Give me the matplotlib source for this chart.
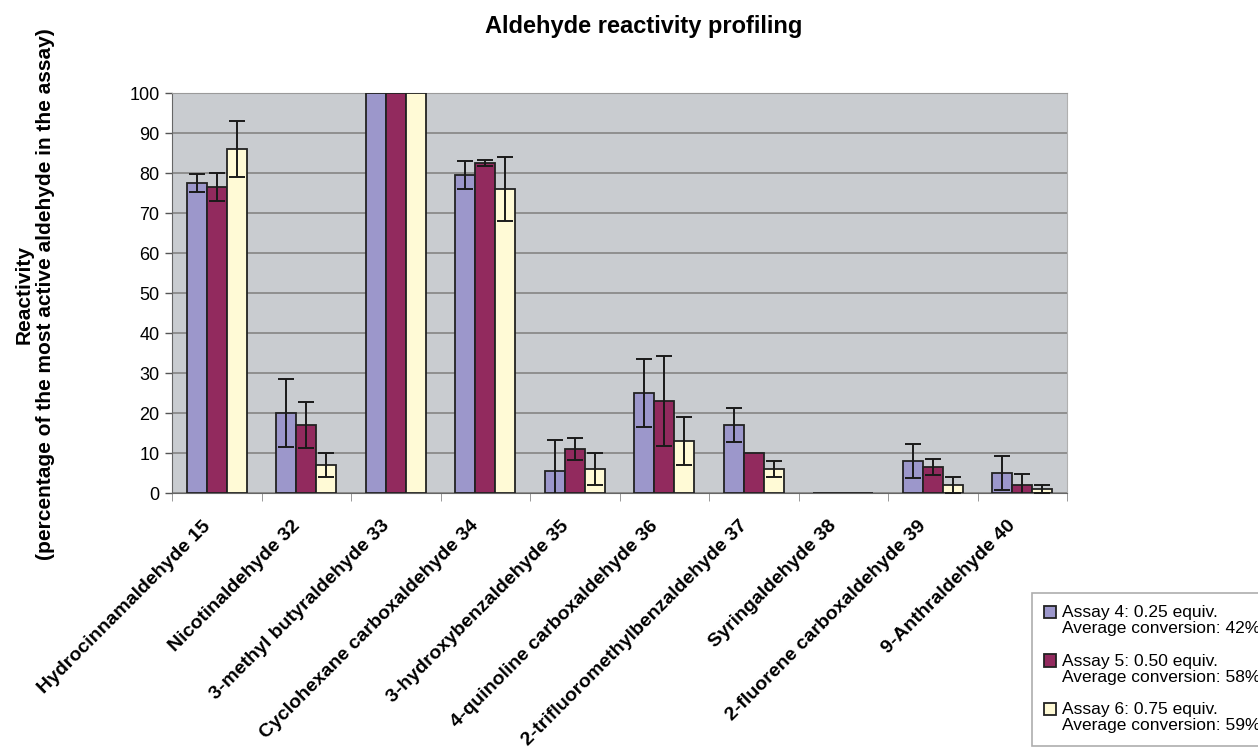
import numpy as np
import matplotlib.pyplot as plt
from matplotlib.patches import Patch, Rectangle
from matplotlib.legend_handler import HandlerPatch
from matplotlib.transforms import ScaledTranslation

# aldehydes tested, reactivity relative to the most active one in each assay
aldehydes = ['Hydrocinnamaldehyde 15', 'Nicotinaldehyde 32', '3-methyl butyraldehyde 33',
             'Cyclohexane carboxaldehyde 34', '3-hydroxybenzaldehyde 35',
             '4-quinoline carboxaldehyde 36', '2-trifluoromethylbenzaldehyde 37',
             'Syringaldehyde 38', '2-fluorene carboxaldehyde 39', '9-Anthraldehyde 40']

assay4 = [77.5, 20.0, 100, 79.5, 5.5, 25.0, 17.0, 0, 8.0, 5.0]
assay4_err = [2.2, 8.5, 0, 3.5, 7.7, 8.5, 4.2, 0, 4.2, 4.2]
assay5 = [76.5, 17.0, 100, 82.5, 11.0, 23.0, 10.0, 0, 6.5, 2.0]
assay5_err = [3.5, 5.7, 0, 0.7, 2.8, 11.3, 0, 0, 2.1, 2.8]
assay6 = [86.0, 7.0, 100, 76.0, 6.0, 13.0, 6.0, 0, 2.0, 1.0]
assay6_err = [7.0, 3.0, 0, 8.0, 3.9, 6.0, 2.0, 0, 1.9, 1.0]

series_labels = ['Assay 4: 0.25 equiv.\nAverage conversion: 42%',
                 'Assay 5: 0.50 equiv.\nAverage conversion: 58%',
                 'Assay 6: 0.75 equiv.\nAverage conversion: 59%']
colors = ['#9c97cb', '#922a5e', '#fffad6']

plt.rcParams['font.family'] = ['Liberation Sans', 'DejaVu Sans']


class TopSquare(HandlerPatch):
    # legend square sits on the first line of a two-line label (Excel style)
    def create_artists(self, legend, orig_handle, xdescent, ydescent, width, height, fontsize, trans):
        p = Rectangle((-xdescent, -ydescent + 0.5 * fontsize), width, height,
                      facecolor=orig_handle.get_facecolor(), edgecolor='#222222',
                      linewidth=1.3, transform=trans)
        return [p]


fig = plt.figure(figsize=(12.58, 7.49), dpi=100)
ax = fig.add_axes([172/1258, 1 - 493/749, (1067-172)/1258, (493-93)/749])
ax.set_facecolor('#c9ccd0')

x = np.arange(len(aldehydes))
w = 0.224
for k, (vals, errs) in enumerate([(assay4, assay4_err), (assay5, assay5_err), (assay6, assay6_err)]):
    ax.bar(x + (k - 1) * w, vals, w, color=colors[k], edgecolor='#222222', linewidth=1.3, zorder=3)
    e = np.array(errs)
    m = e > 0
    ax.errorbar((x + (k - 1) * w)[m], np.array(vals)[m], yerr=e[m], fmt='none', ecolor='#1a1a1a',
                elinewidth=1.4, capsize=6, capthick=1.4, zorder=4)

ax.set_xlim(-0.5, len(aldehydes) - 0.5)
ax.set_ylim(0, 100)
ax.set_yticks(np.arange(0, 101, 10))
ax.yaxis.grid(True, color='#8a8a8a', linewidth=1.3, zorder=0)
ax.set_axisbelow(True)
ax.tick_params(axis='y', labelsize=13, length=5, width=1, color='#555555', pad=4)

ax.set_xticks(x)
ax.set_xticks(np.arange(-0.5, len(aldehydes)), minor=True)
ax.tick_params(axis='x', which='major', length=0, pad=14)
ax.tick_params(axis='x', which='minor', length=6, color='#888888')
ax.set_xticklabels(aldehydes, rotation=45, ha='right', rotation_mode='anchor',
                   fontsize=14, fontweight='bold')
# nudge the slanted labels so they end just left of each group centre
shift = ScaledTranslation(-0.15, -0.05, fig.dpi_scale_trans)
for lab in ax.get_xticklabels():
    lab.set_transform(lab.get_transform() + shift)

for s in ['left', 'bottom']:
    ax.spines[s].set_color('#666666')
ax.spines['top'].set_color('#9a9a9a')
ax.spines['right'].set_color('#b0b0b0')
ax.spines['right'].set_linewidth(0.8)

fig.text(644/1258, 1 - 33/749, 'Aldehyde reactivity profiling', ha='center', va='baseline',
         fontsize=17, fontweight='bold')
fig.text(35/1258, 1 - 294/749, 'Reactivity\n(percentage of the most active aldehyde in the assay)',
         rotation=90, ha='center', va='center', fontsize=15, fontweight='bold', linespacing=1.15)

handles = [Patch(facecolor=c, edgecolor='#222222') for c in colors]
leg = fig.legend(handles, series_labels, loc='upper left', bbox_to_anchor=(1032/1258, 1 - 593/749),
                 fontsize=12.5, frameon=True, fancybox=False, edgecolor='#999999',
                 handlelength=0.7, handleheight=0.7, handletextpad=0.3, labelspacing=1.0,
                 borderpad=0.7, borderaxespad=0, handler_map={Patch: TopSquare()})
leg.get_frame().set_linewidth(1.2)
for t in leg.get_texts():
    t.set_linespacing(1.1)

fig.savefig('out.png', dpi=100)
